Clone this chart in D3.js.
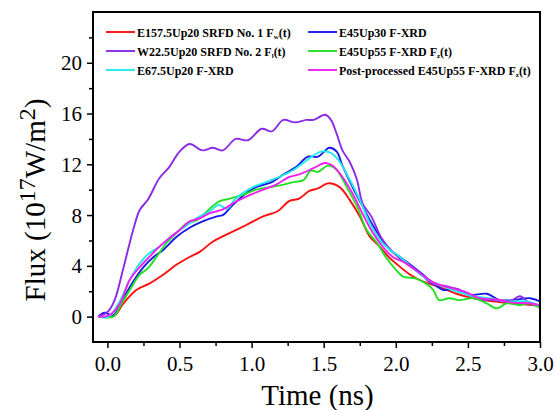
<!DOCTYPE html>
<html>
<head>
<meta charset="utf-8">
<script src="https://cdn.jsdelivr.net/npm/d3@7"></script>
<style>
  html, body { margin: 0; padding: 0; background: #fff; }
  svg { display: block; }
</style>
</head>
<body>
<script>
// time (ns) / flux (1e17 W/m^2)
var redT = [-0.065, 0.05, 0.108, 0.2, 0.29, 0.386, 0.48, 0.57, 0.64, 0.73, 0.85, 0.96, 1.08, 1.18, 1.26, 1.33, 1.4, 1.46, 1.53, 1.61, 1.68, 1.75, 1.82, 1.89, 1.95, 2.0, 2.1, 2.19, 2.3, 2.42, 2.54, 2.67, 2.81, 3.0];
var redV = [0, 0.1, 1.0, 2.1, 2.6, 3.3, 4.1, 4.7, 5.1, 5.9, 6.6, 7.2, 7.9, 8.3, 9.1, 9.3, 9.9, 10.1, 10.5, 10.2, 9.2, 7.9, 6.3, 5.5, 4.7, 4.2, 3.3, 2.75, 2.35, 1.8, 1.45, 1.2, 1.05, 0.85];

var blueT = [-0.065, -0.02, 0.04, 0.108, 0.178, 0.25, 0.32, 0.386, 0.48, 0.57, 0.66, 0.76, 0.8, 0.87, 0.96, 1.03, 1.14, 1.22, 1.31, 1.39, 1.46, 1.54, 1.59, 1.63, 1.7, 1.76, 1.82, 1.89, 1.96, 2.03, 2.1, 2.19, 2.26, 2.33, 2.42, 2.51, 2.63, 2.72, 2.81, 2.93, 3.0];
var blueV = [0, 0.3, 0.1, 1.4, 2.75, 3.9, 4.7, 5.25, 6.3, 7.0, 7.5, 7.9, 8.0, 8.8, 9.7, 10.2, 10.6, 11.2, 11.8, 12.6, 12.6, 13.3, 13.0, 11.9, 10.2, 8.9, 7.6, 6.3, 5.25, 4.7, 4.1, 3.3, 2.6, 2.1, 2.2, 1.7, 1.8, 1.3, 1.3, 1.45, 1.2];

var purpleT = [-0.065, 0.004, 0.05, 0.108, 0.178, 0.224, 0.28, 0.36, 0.43, 0.5, 0.57, 0.66, 0.73, 0.8, 0.89, 0.975, 1.07, 1.14, 1.22, 1.3, 1.38, 1.43, 1.51, 1.55, 1.59, 1.63, 1.68, 1.73, 1.77, 1.83, 1.9, 1.97, 2.07, 2.17, 2.25, 2.35, 2.44, 2.56, 2.67, 2.79, 2.86, 2.93, 3.0];
var purpleV = [0, 0.4, 1.3, 3.7, 6.8, 8.4, 9.2, 10.9, 11.8, 13.0, 13.6, 13.1, 13.3, 13.1, 14.0, 13.9, 14.8, 14.6, 15.5, 15.3, 15.5, 15.5, 15.9, 15.5, 14.4, 13.1, 12.2, 10.8, 8.9, 7.9, 6.2, 5.2, 4.2, 3.4, 2.6, 2.4, 2.1, 1.4, 1.3, 1.2, 1.6, 1.05, 0.9];

var greenT = [-0.065, 0.04, 0.097, 0.155, 0.224, 0.28, 0.34, 0.41, 0.48, 0.55, 0.62, 0.69, 0.77, 0.85, 0.94, 1.03, 1.13, 1.22, 1.29, 1.36, 1.41, 1.46, 1.53, 1.59, 1.66, 1.73, 1.8, 1.87, 1.93, 2.0, 2.05, 2.14, 2.21, 2.26, 2.3, 2.37, 2.44, 2.54, 2.63, 2.7, 2.77, 2.86, 2.93, 3.0];
var greenV = [0, 0, 1.0, 2.1, 3.3, 3.8, 4.7, 5.8, 6.6, 7.35, 7.6, 8.3, 9.05, 9.3, 9.6, 10.0, 10.2, 10.4, 10.6, 10.75, 11.5, 11.4, 11.9, 11.55, 10.2, 8.7, 6.8, 5.8, 4.7, 3.7, 3.15, 3.0, 2.6, 2.1, 1.3, 1.45, 1.3, 1.45, 1.05, 0.65, 1.05, 0.9, 1.05, 0.65];

var cyanT = [-0.065, 0.01, 0.085, 0.155, 0.224, 0.29, 0.36, 0.43, 0.5, 0.57, 0.64, 0.71, 0.77, 0.83, 0.89, 1.01, 1.1, 1.19, 1.29, 1.38, 1.48, 1.55, 1.61, 1.68, 1.75, 1.82, 1.89, 1.96, 2.03, 2.12, 2.21, 2.3, 2.42, 2.54, 2.65, 2.77, 2.91, 3.0];
var cyanV = [0, 0, 1.2, 2.9, 4.2, 5.0, 5.5, 6.2, 6.8, 7.35, 7.9, 8.3, 8.8, 8.5, 9.3, 10.2, 10.6, 11.0, 11.55, 12.3, 13.0, 12.9, 12.2, 10.8, 9.2, 7.35, 6.0, 5.25, 4.7, 3.8, 3.0, 2.5, 2.0, 1.6, 1.45, 1.2, 1.2, 0.85];

var magentaT = [-0.065, 0.01, 0.085, 0.155, 0.224, 0.29, 0.36, 0.43, 0.5, 0.57, 0.64, 0.71, 0.8, 0.89, 0.99, 1.08, 1.17, 1.26, 1.33, 1.43, 1.51, 1.56, 1.63, 1.7, 1.77, 1.84, 1.91, 1.98, 2.07, 2.17, 2.26, 2.35, 2.47, 2.58, 2.7, 2.81, 2.93, 3.0];
var magentaV = [0, 0.1, 1.0, 2.9, 3.9, 4.7, 5.5, 6.2, 6.8, 7.5, 7.75, 8.15, 8.45, 9.05, 9.6, 10.0, 10.4, 11.0, 11.2, 11.7, 12.1, 11.9, 11.0, 9.7, 8.1, 6.6, 5.5, 4.7, 4.2, 3.4, 2.7, 2.35, 2.0, 1.45, 1.35, 1.1, 1.05, 0.9];

var xTicks = [0, 0.5, 1.0, 1.5, 2.0, 2.5, 3.0];
var yTicks = [0, 4, 8, 12, 16, 20];

var seriesNames = ['E157.5Up20 SRFD No. 1 F', 'E45Up30 F-XRD', 'W22.5Up20 SRFD No. 2 F', 'E45Up55 F-XRD F', 'E67.5Up20 F-XRD', 'Post-processed E45Up55 F-XRD F'];
var seriesSubs = ['w', '', 'l', 'z', '', 'z'];
var seriesColors = ['#ff1010', '#1818e8', '#8a2be8', '#22e022', '#22eaea', '#f020f0'];

var
  serif = "'Liberation Serif'",

  config = {
    w : 556,
    h : 410,
    left : 93,
    right : 540,
    top : 12,
    bottom : 342
  },

  zip = function zip(ts, vs) {
    return ts.map(function (t, i) { return [t, vs[i]]; });
  },

  drawChart = function drawChart() {
    var svg = d3.select('body').append('svg')
      .attr('width', config.w).attr('height', config.h);

    var x = d3.scaleLinear().domain([-0.1, 3.0]).range([config.left, config.right]);
    var y = d3.scaleLinear().domain([-2, 24]).range([config.bottom, config.top]);

    var series = [
      zip(redT, redV), zip(blueT, blueV), zip(purpleT, purpleV),
      zip(greenT, greenV), zip(cyanT, cyanV), zip(magentaT, magentaV)
    ];

    var line = d3.line()
      .x(function (d) { return x(d[0]); })
      .y(function (d) { return y(d[1]); })
      .curve(d3.curveCatmullRom.alpha(0.5));

    // curves
    svg.append('g').selectAll('path').data(series).enter().append('path')
      .attr('d', line)
      .attr('fill', 'none')
      .attr('stroke', function (d, i) { return seriesColors[i]; })
      .attr('stroke-width', 1.9);

    // minor ticks
    var xMinor = d3.range(0.25, 3.0, 0.5);
    var yMinor = d3.range(2, 23, 4);

    var xAxis = d3.axisBottom(x).tickValues(xTicks).tickFormat(d3.format('.1f')).tickSize(6).tickSizeOuter(0);
    var yAxis = d3.axisLeft(y).tickValues(yTicks).tickFormat(d3.format('d')).tickSize(6).tickSizeOuter(0);

    var gx = svg.append('g').attr('transform', 'translate(0,' + config.bottom + ')').call(xAxis);
    var gy = svg.append('g').attr('transform', 'translate(' + config.left + ',0)').call(yAxis);

    svg.append('g').attr('transform', 'translate(0,' + config.bottom + ')')
      .call(d3.axisBottom(x).tickValues(xMinor).tickFormat('').tickSize(4).tickSizeOuter(0))
      .select('.domain').remove();
    svg.append('g').attr('transform', 'translate(' + config.left + ',0)')
      .call(d3.axisLeft(y).tickValues(yMinor).tickFormat('').tickSize(4).tickSizeOuter(0))
      .select('.domain').remove();

    svg.selectAll('.tick line').attr('stroke', '#000').attr('stroke-width', 1.5);
    gx.selectAll('.tick text').attr('font-size', 21).attr('dy', '0.95em').attr('fill', '#000');
    gy.selectAll('.tick text').attr('font-size', 21).attr('dx', '-0.1em').attr('dy', '0.34em').attr('fill', '#000');

    // frame
    svg.append('rect')
      .attr('x', config.left).attr('y', config.top)
      .attr('width', config.right - config.left).attr('height', config.bottom - config.top)
      .attr('fill', 'none').attr('stroke', '#000').attr('stroke-width', 2);
    svg.selectAll('.domain').remove();

    // axis titles
    svg.append('text')
      .attr('x', (config.left + config.right) / 2 + 1).attr('y', 405)
      .attr('text-anchor', 'middle').attr('font-size', 29)
      .text('Time (ns)');

    var yt = svg.append('text')
      .attr('transform', 'translate(45,' + 200 + ') rotate(-90)')
      .attr('text-anchor', 'middle').attr('font-size', 29);
    yt.append('tspan').text('Flux (10');
    yt.append('tspan').attr('baseline-shift', '40%').attr('font-size', 24).text('17');
    yt.append('tspan').text('W/m');
    yt.append('tspan').attr('baseline-shift', '40%').attr('font-size', 24).text('2');
    yt.append('tspan').text(')');

    // legend
    var legendX = [106, 308];
    var legendY = [32, 51, 70];
    var slots = [[0, 0], [1, 0], [0, 1], [1, 1], [0, 2], [1, 2]];
    var leg = svg.append('g').selectAll('g').data(seriesNames).enter().append('g')
      .attr('transform', function (d, i) {
        return 'translate(' + legendX[slots[i][0]] + ',' + legendY[slots[i][1]] + ')';
      });
    leg.append('line')
      .attr('x1', 0).attr('x2', 29).attr('y1', 0).attr('y2', 0)
      .attr('stroke', function (d, i) { return seriesColors[i]; })
      .attr('stroke-width', 1.9);
    var lt = leg.append('text')
      .attr('x', 31).attr('y', 4.5)
      .attr('font-size', 12).attr('font-weight', 'bold');
    lt.append('tspan').text(function (d) { return d; });
    lt.filter(function (d, i) { return seriesSubs[i] !== ''; }).each(function (d) {
      var idx = seriesNames.indexOf(d);
      var t = d3.select(this);
      t.append('tspan').attr('baseline-shift', '-25%').attr('font-size', 7).text(seriesSubs[idx]);
      t.append('tspan').text('(t)');
    });

    // every text in Times-like serif
    svg.selectAll('text').style('font-family', serif);
  },

  init = function init() {
    drawChart();
  };

drawChart();
</script>
</body>
</html>
